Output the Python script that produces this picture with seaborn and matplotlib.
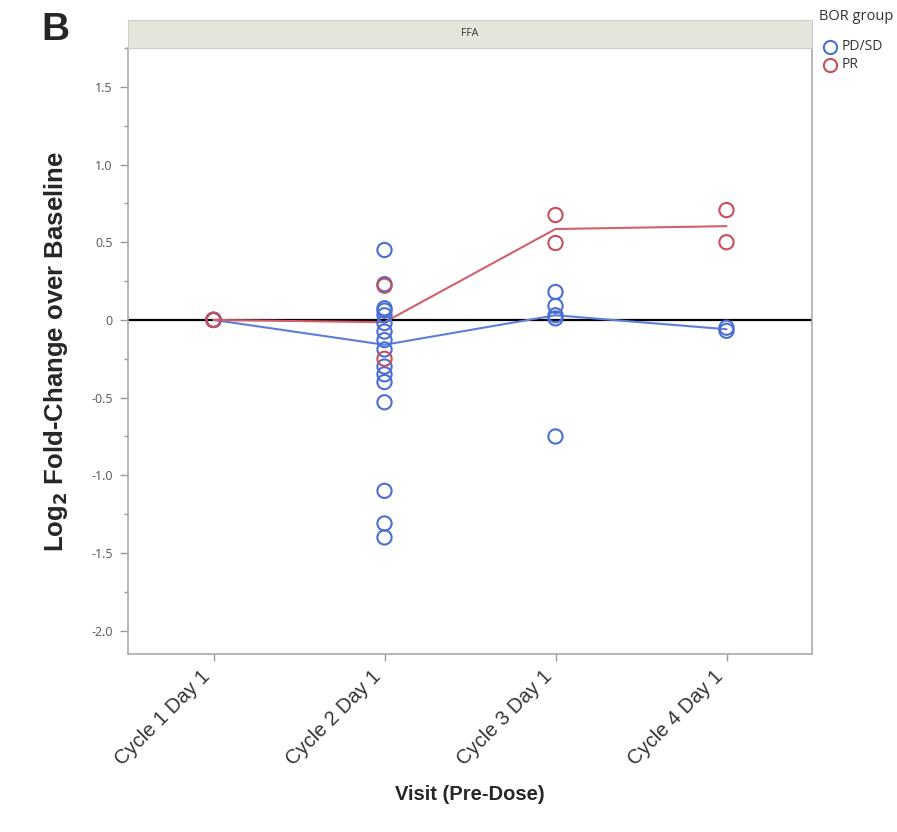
import numpy as np
import pandas as pd
import matplotlib
matplotlib.use("Agg")
import matplotlib.pyplot as plt
from matplotlib.lines import Line2D
import seaborn as sns

visits = ["Cycle 1 Day 1", "Cycle 2 Day 1", "Cycle 3 Day 1", "Cycle 4 Day 1"]
groups = ["PD/SD", "PR"]

pdsd_c1 = [0.0, 0.0, 0.0, 0.0]
pdsd_c2 = [0.45, 0.23, 0.075, 0.06, 0.03, -0.02, -0.075, -0.13, -0.19,
           -0.30, -0.35, -0.40, -0.53, -1.10, -1.31, -1.40]
pdsd_c3 = [0.18, 0.09, 0.03, 0.01, -0.75]
pdsd_c4 = [-0.05, -0.07]

pr_c1 = [0.0, 0.0]
pr_c2 = [0.22, -0.25]
pr_c3 = [0.675, 0.495]
pr_c4 = [0.707, 0.50]

rows = []
for g, series in (("PD/SD", [pdsd_c1, pdsd_c2, pdsd_c3, pdsd_c4]),
                  ("PR", [pr_c1, pr_c2, pr_c3, pr_c4])):
    for i, vals in enumerate(series):
        for v in vals:
            rows.append({"group": g, "visit": visits[i], "xpos": i, "value": v})
df = pd.DataFrame(rows)

sns.set_theme(style="white")
plt.rcParams["font.family"] = ["Liberation Sans", "DejaVu Sans"]

palette = {"PD/SD": "#4A6ED3", "PR": "#C94E5C"}
line_palette = {"PD/SD": "#5B7FDA", "PR": "#D3606B"}

fig = plt.figure(figsize=(8.97, 8.32), dpi=100)
ax = fig.add_axes([128/897, 1-654/832, (812-128)/897, (654-48)/832])

ax.axhline(0, color="black", lw=1.6, zorder=1)

sns.lineplot(data=df, x="xpos", y="value", hue="group", hue_order=groups,
             palette=line_palette, estimator="median", errorbar=None,
             lw=1.5, legend=False, ax=ax, zorder=2)

sns.scatterplot(data=df, x="xpos", y="value", hue="group", hue_order=groups,
                palette=palette, s=105, marker="o", legend=False, ax=ax, zorder=3)
coll = ax.collections[-1]
fcs = coll.get_facecolors()
coll.set_edgecolors(fcs)
coll.set_facecolors("none")
coll.set_linewidths(1.5)

ax.set_xlim(-0.5, 3.5)
ax.set_ylim(-2.15, 1.75)
ax.set_xticks(range(len(visits)))
ax.set_xticklabels(visits, rotation=45, ha="right", va="bottom",
                   rotation_mode="anchor", fontsize=14.5, color="#333333")
ax.set_yticks([1.5, 1.0, 0.5, 0, -0.5, -1.0, -1.5, -2.0])
ax.set_yticklabels(["1.5", "1.0", "0.5", "0", "-0.5", "-1.0", "-1.5", "-2.0"],
                   fontsize=9, color="#555555", family=["Open Sans", "DejaVu Sans"])
ax.set_yticks(np.arange(-2.0, 1.76, 0.25), minor=True)
ax.tick_params(axis="y", which="major", length=6, width=1, color="#999999",
               left=True, pad=5)
ax.tick_params(axis="y", which="minor", length=3, width=1, color="#999999",
               left=True)
ax.tick_params(axis="x", which="major", length=5, width=1, color="#999999",
               bottom=True, pad=14)
for s in ax.spines.values():
    s.set_color("#aaaaaa")
    s.set_linewidth(1.2)

ax.set_xlabel("Visit (Pre-Dose)", fontsize=14.5, fontweight="bold")
ax.set_ylabel(r"Log$_\mathbf{2}$ Fold-Change over Baseline", fontsize=18.5,
              fontweight="bold")
ax.xaxis.set_label_coords(0.5, -0.216)
ax.yaxis.set_label_coords(-0.085, 0.5)

# facet header strip
hax = fig.add_axes([128/897, 1-48/832, (812-128)/897, 28/832])
hax.set_facecolor("#E5E5DB")
hax.set_xticks([])
hax.set_yticks([])
for s in hax.spines.values():
    s.set_color("#cccccc")
    s.set_linewidth(0.8)
hax.text(0.5, 0.5, "FFA", ha="center", va="center", fontsize=7.5,
         color="#333333", transform=hax.transAxes,
         family=["Open Sans", "DejaVu Sans"])

fig.text(41/897, 1-30/832, "B", fontsize=28, fontweight="bold",
         ha="left", va="center")

# legend (BOR group)
lfam = ["Open Sans", "DejaVu Sans"]
fig.text(819/897, 1-17/832, "BOR group", fontsize=10.5, color="#333333",
         ha="left", va="center", family=lfam)
for g, yy in zip(groups, [47, 65]):
    fig.add_artist(Line2D([830/897], [1-yy/832], marker="o", ls="none",
                          markersize=9.5, markerfacecolor="none",
                          markeredgecolor=palette[g], markeredgewidth=1.5,
                          transform=fig.transFigure))
    fig.text(842/897, 1-yy/832, g, fontsize=10, color="#333333",
             ha="left", va="center", family=lfam)

fig.savefig("out.png", dpi=100)
